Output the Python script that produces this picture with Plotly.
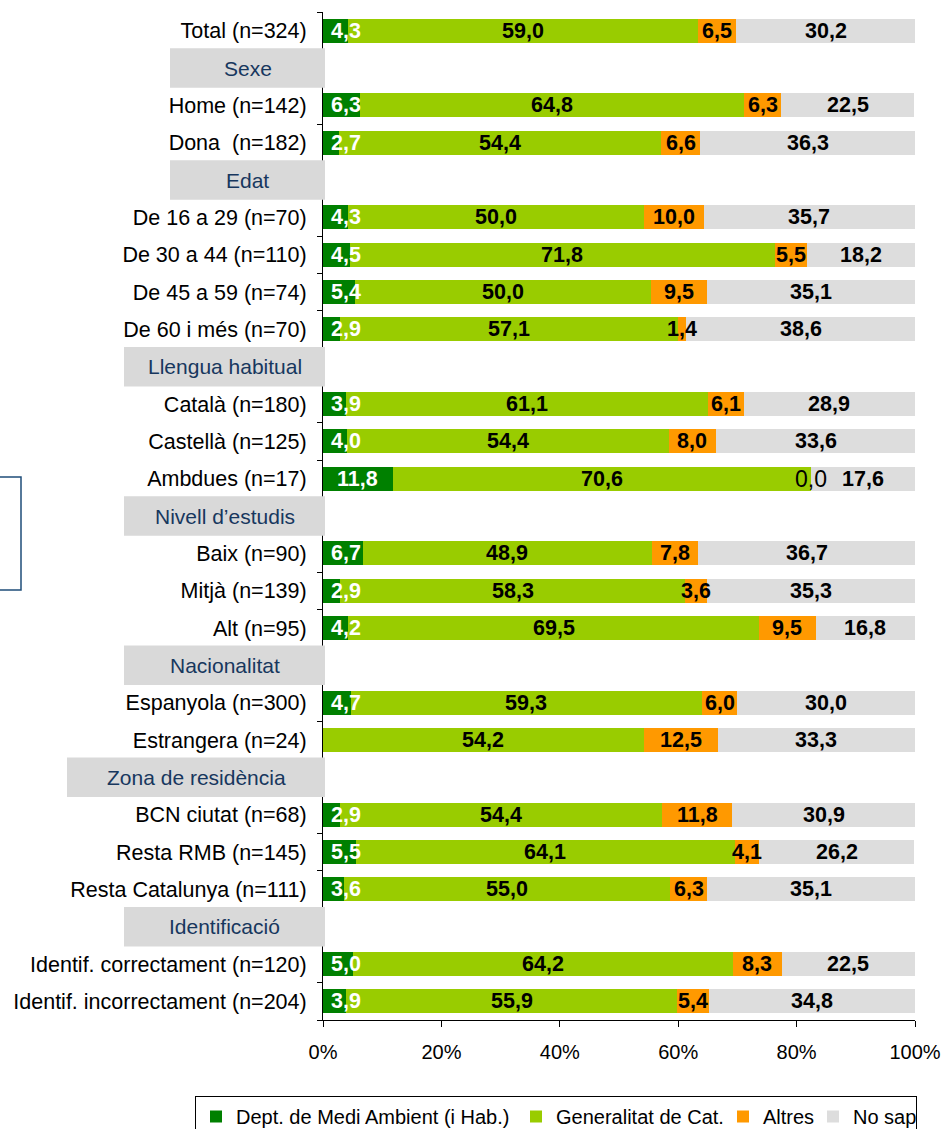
import plotly.graph_objects as go

# --- data (rows from top to bottom; None = section header row / no value) ---
rows = [
    "Total (n=324)", "Sexe", "Home (n=142)", "Dona  (n=182)",
    "Edat", "De 16 a 29 (n=70)", "De 30 a 44 (n=110)", "De 45 a 59 (n=74)", "De 60 i més (n=70)",
    "Llengua habitual", "Català (n=180)", "Castellà (n=125)", "Ambdues (n=17)",
    "Nivell d’estudis", "Baix (n=90)", "Mitjà (n=139)", "Alt (n=95)",
    "Nacionalitat", "Espanyola (n=300)", "Estrangera (n=24)",
    "Zona de residència", "BCN ciutat (n=68)", "Resta RMB (n=145)", "Resta Catalunya (n=111)",
    "Identificació", "Identif. correctament (n=120)", "Identif. incorrectament (n=204)",
]
headers = ["Sexe", "Edat", "Llengua habitual", "Nivell d’estudis",
           "Nacionalitat", "Zona de residència", "Identificació"]

dept = [4.3, None, 6.3, 2.7, None, 4.3, 4.5, 5.4, 2.9, None, 3.9, 4.0, 11.8,
        None, 6.7, 2.9, 4.2, None, 4.7, None, None, 2.9, 5.5, 3.6, None, 5.0, 3.9]
generalitat = [59.0, None, 64.8, 54.4, None, 50.0, 71.8, 50.0, 57.1, None, 61.1, 54.4, 70.6,
               None, 48.9, 58.3, 69.5, None, 59.3, 54.2, None, 54.4, 64.1, 55.0, None, 64.2, 55.9]
altres = [6.5, None, 6.3, 6.6, None, 10.0, 5.5, 9.5, 1.4, None, 6.1, 8.0, 0.0,
          None, 7.8, 3.6, 9.5, None, 6.0, 12.5, None, 11.8, 4.1, 6.3, None, 8.3, 5.4]
no_sap = [30.2, None, 22.5, 36.3, None, 35.7, 18.2, 35.1, 38.6, None, 28.9, 33.6, 17.6,
          None, 36.7, 35.3, 16.8, None, 30.0, 33.3, None, 30.9, 26.2, 35.1, None, 22.5, 34.8]

series_names = ["Dept. de Medi Ambient (i Hab.)", "Generalitat de Cat.", "Altres", "No sap"]
series_vals = [dept, generalitat, altres, no_sap]
colors = ["#008000", "#99cc00", "#ff9900", "#dddddd"]
legend_widths = [275, 162, 45, 58]

x_ticks = [0, 20, 40, 60, 80, 100]
x_ticktext = ["0%", "20%", "40%", "60%", "80%", "100%"]

# header box left edge (pixels from page left)
header_left_px = {"Sexe": 170, "Edat": 170, "Llengua habitual": 124, "Nivell d’estudis": 124,
                  "Nacionalitat": 124, "Zona de residència": 67, "Identificació": 124}

FONT = "Liberation Sans, Arial, sans-serif"
W, H = 945, 1129
ML, MR, MT, MB = 323, 30, 12, 109
PW = W - ML - MR
PH = H - MT - MB


def px_to_paper_x(px):
    return (px - ML) / PW


def px_to_paper_y(py):
    return (H - MB - py) / PH


def fmt(v):
    return f"{v:.1f}".replace(".", ",")


fig = go.Figure()
for name, vals, col, lw in zip(series_names, series_vals, colors, legend_widths):
    fig.add_trace(go.Bar(
        y=rows, x=vals, name=name, orientation="h",
        marker=dict(color=col, line=dict(width=0)),
        legendwidth=lw, hoverinfo="skip",
    ))

# value labels
annotations = []
for i, r in enumerate(rows):
    if r in headers:
        continue
    start = 0.0
    for k, vals in enumerate(series_vals):
        v = vals[i]
        if v is None:
            continue
        cx = start + v / 2
        if k == 0:
            cx = max(cx, 3.9)
            font = dict(family=FONT, size=21.5, color="white")
            txt = "<b>" + fmt(v) + "</b>"
        elif v == 0:
            font = dict(family=FONT, size=23, color="black")
            txt = fmt(v)
        else:
            font = dict(family=FONT, size=21.5, color="black")
            txt = "<b>" + fmt(v) + "</b>"
        annotations.append(dict(x=cx, y=r, xref="x", yref="y", text=txt, showarrow=False,
                                font=font, xanchor="center", yanchor="middle"))
        start += v

# section header boxes
shapes = []
for h in headers:
    idx = rows.index(h)
    x0 = px_to_paper_x(header_left_px[h])
    x1 = px_to_paper_x(325)
    shapes.append(dict(type="rect", xref="paper", yref="y", x0=x0, x1=x1,
                       y0=idx - 0.53, y1=idx + 0.53, fillcolor="#d9d9d9",
                       line=dict(width=0), layer="above"))
    annotations.append(dict(x=(x0 + x1) / 2, y=h, xref="paper", yref="y", text=h,
                            showarrow=False, font=dict(family=FONT, size=21, color="#17375e"),
                            xanchor="center", yanchor="middle"))

# stray frame on the left edge
shapes.append(dict(type="rect", xref="paper", yref="paper",
                   x0=px_to_paper_x(-40), x1=px_to_paper_x(21),
                   y0=px_to_paper_y(590), y1=px_to_paper_y(477),
                   line=dict(color="#1f4e79", width=1.5), fillcolor="rgba(0,0,0,0)"))

ticktext = ["" if r in headers else r for r in rows]

fig.update_layout(
    barmode="stack",
    bargap=0.36,
    width=W, height=H,
    margin=dict(l=ML, r=MR, t=MT, b=MB, autoexpand=False),
    paper_bgcolor="white", plot_bgcolor="white",
    font=dict(family=FONT, size=21, color="black"),
    shapes=shapes,
    annotations=annotations,
    legend=dict(orientation="h", x=px_to_paper_x(195), y=px_to_paper_y(1096),
                xanchor="left", yanchor="top", bordercolor="black", borderwidth=1,
                bgcolor="white", font=dict(family=FONT, size=20, color="black"),
                traceorder="normal", itemwidth=30),
    xaxis=dict(range=[0, 100], tickmode="array", tickvals=x_ticks, ticktext=x_ticktext,
               showgrid=False, zeroline=False, showline=True, linecolor="black", linewidth=1,
               ticks="outside", ticklen=6, tickcolor="black", ticklabelstandoff=8,
               tickfont=dict(family=FONT, size=20, color="black")),
    yaxis=dict(type="category", categoryorder="array", categoryarray=rows,
               autorange="reversed", tickmode="array", tickvals=rows, ticktext=ticktext,
               tickson="boundaries", ticks="outside", ticklen=5, tickcolor="black",
               ticklabelstandoff=11,
               showline=True, linecolor="black", linewidth=1, showgrid=False,
               tickfont=dict(family=FONT, size=21.5, color="black")),
)

fig.write_html("out.html", config={"displayModeBar": False},
               post_script="document.body.style.margin='0';document.body.style.overflow='hidden';")
